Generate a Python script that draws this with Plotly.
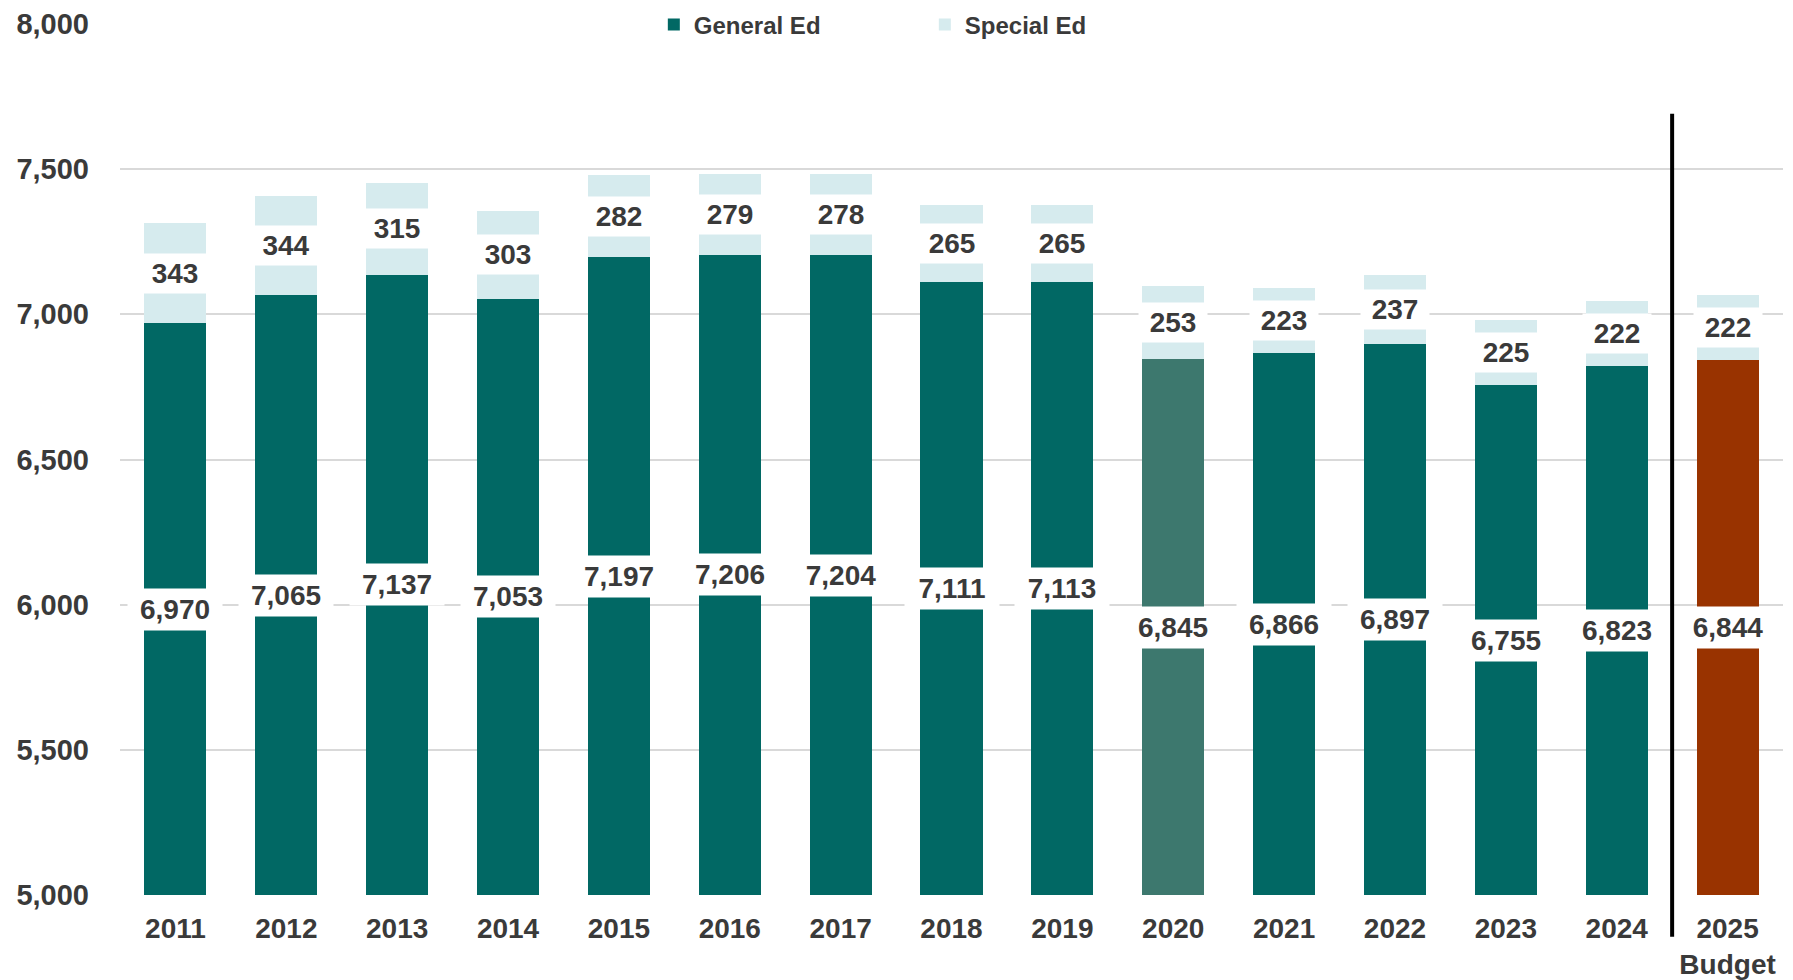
import plotly.graph_objects as go

years = ["2011", "2012", "2013", "2014", "2015", "2016", "2017", "2018", "2019",
         "2020", "2021", "2022", "2023", "2024", "2025<br>Budget"]
general_ed = [6970, 7065, 7137, 7053, 7197, 7206, 7204, 7111, 7113,
              6845, 6866, 6897, 6755, 6823, 6844]
special_ed = [343, 344, 315, 303, 282, 279, 278, 265, 265,
              253, 223, 237, 225, 222, 222]

y_min, y_max = 5000, 8000
y_ticks = [5000, 5500, 6000, 6500, 7000, 7500, 8000]

TEAL = "#016864"
TEAL_2020 = "#3d786e"
RUST = "#993300"
LIGHT = "#d6ebee"
TEXT = "#3a3a3a"
FONT = "Liberation Sans, Arial, sans-serif"

general_colors = []
for y in years:
    if y == "2020":
        general_colors.append(TEAL_2020)
    elif y.startswith("2025"):
        general_colors.append(RUST)
    else:
        general_colors.append(TEAL)

fig = go.Figure()
fig.add_trace(go.Bar(
    x=years, y=general_ed, name="General Ed",
    marker=dict(color=general_colors, line=dict(width=0)),
    width=0.56, hoverinfo="skip",
))
fig.add_trace(go.Bar(
    x=years, y=special_ed, name="Special Ed",
    marker=dict(color=LIGHT, line=dict(width=0)),
    width=0.56, hoverinfo="skip",
))

annotations = []
for i, (g, s) in enumerate(zip(general_ed, special_ed)):
    annotations.append(dict(
        x=i, y=(y_min + g) / 2, xref="x", yref="y",
        text=f"{g:,}", showarrow=False,
        font=dict(family=FONT, size=28, color=TEXT, weight=700),
        bgcolor="white", width=90, height=37, borderpad=2,
        align="center", valign="middle",
    ))
    annotations.append(dict(
        x=i, y=g + s / 2, xref="x", yref="y",
        text=f"{s:,}", showarrow=False,
        font=dict(family=FONT, size=28, color=TEXT, weight=700),
        bgcolor="white", width=64, height=35, borderpad=2,
        align="center", valign="middle",
    ))

fig.update_layout(
    width=1793, height=980,
    margin=dict(l=120, r=10, t=24, b=85, autoexpand=False),
    paper_bgcolor="white", plot_bgcolor="white",
    barmode="stack", bargap=0.44,
    font=dict(family=FONT, color=TEXT),
    showlegend=True,
    legend=dict(
        orientation="h", x=0.321, xanchor="left", y=0.999, yanchor="middle",
        font=dict(family=FONT, size=24, color=TEXT, weight=700),
        bgcolor="rgba(0,0,0,0)", entrywidth=226, traceorder="normal",
    ),
    annotations=annotations,
    shapes=[dict(
        type="line", xref="x", yref="paper",
        x0=len(years) - 1.5, x1=len(years) - 1.5, y0=-0.048, y1=0.897,
        line=dict(color="black", width=4),
    )],
    xaxis=dict(
        type="category", range=[-0.5, len(years) - 0.5], automargin=False,
        showgrid=False, zeroline=False, showline=False,
        ticks="", ticklabelstandoff=14,
        tickfont=dict(family=FONT, size=28, color=TEXT, weight=700),
    ),
    yaxis=dict(
        range=[y_min, y_max], tickvals=y_ticks, tickformat=",", automargin=False,
        showgrid=True, gridcolor="#d9d9d9", gridwidth=1.5,
        zeroline=False, showline=False, ticks="", ticklabelstandoff=30,
        tickfont=dict(family=FONT, size=29, color=TEXT, weight=700),
    ),
)

fig.write_html("out.html", config={"displayModeBar": False},
               post_script="document.body.style.margin='0';")
